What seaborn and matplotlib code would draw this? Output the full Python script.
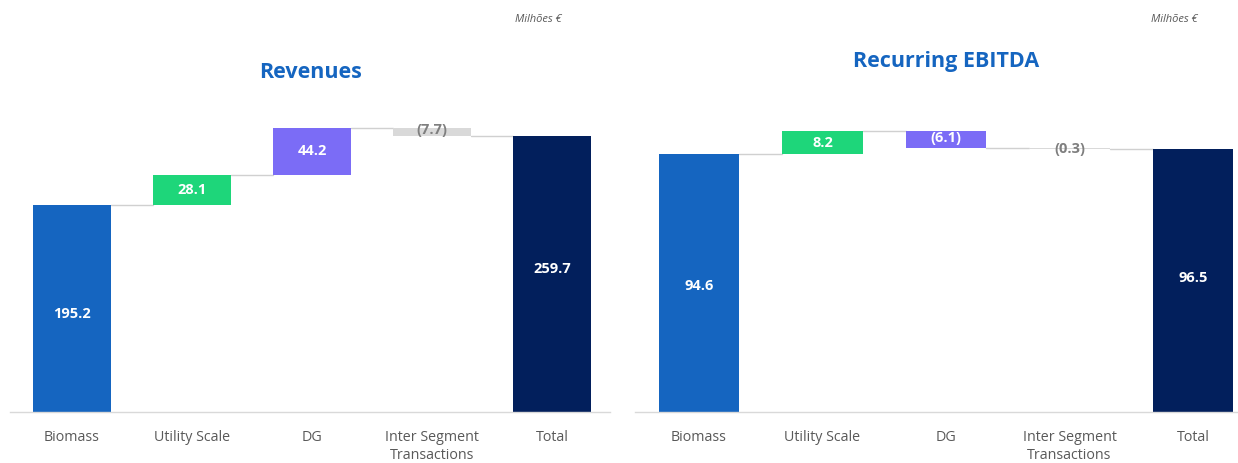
import matplotlib
matplotlib.use("Agg")
import matplotlib.pyplot as plt
import seaborn as sns
import numpy as np

categories = ["Biomass", "Utility Scale", "DG", "Inter Segment\nTransactions", "Total"]
revenues = [195.2, 28.1, 44.2, -7.7, 259.7]
ebitda = [94.6, 8.2, -6.1, -0.3, 96.5]
rev_labels = ["195.2", "28.1", "44.2", "(7.7)", "259.7"]
ebitda_labels = ["94.6", "8.2", "(6.1)", "(0.3)", "96.5"]
titles = ["Revenues", "Recurring EBITDA"]
unit_label = "Milhões €"

colors = ["#1565C0", "#1ED67A", "#7B6CF6", "#D9D9D9", "#021F5C"]
label_colors = ["white", "white", "white", "#7F7F7F", "white"]
title_color = "#1565C0"

sns.set_theme(style="white")
plt.rcParams["font.family"] = ["Open Sans", "DejaVu Sans"]

fig = plt.figure(figsize=(12.38, 4.63), dpi=100)
W, H = 1238, 463
BW = 0.65

def waterfall(ax, values, labels, ymax, label_pos):
    vals = np.array(values, dtype=float)
    n = len(vals)
    bottoms = np.zeros(n)
    heights = np.zeros(n)
    running = 0.0
    for i in range(n - 1):
        if vals[i] >= 0:
            bottoms[i] = running
            heights[i] = vals[i]
        else:
            bottoms[i] = running + vals[i]
            heights[i] = -vals[i]
        running += vals[i]
    bottoms[-1] = 0
    heights[-1] = vals[-1]
    for i in range(n):
        sns.barplot(x=[categories[i]], y=[heights[i]], order=categories,
                    bottom=bottoms[i], color=colors[i], saturation=1,
                    width=BW, edgecolor="none", ax=ax, zorder=2)
    running = 0.0
    for i in range(n - 1):
        running += vals[i]
        ax.plot([i + BW / 2, i + 1 - BW / 2], [running, running], color="#D0D0D0",
                lw=1.0, zorder=1)
    for i in range(n):
        ax.text(i, label_pos[i], labels[i], ha="center", va="center", fontsize=10.5,
                fontweight="bold", color=label_colors[i], zorder=3)
    ax.set_ylim(0, ymax)
    ax.set_yticks([])
    ax.set_xlabel("")
    ax.set_ylabel("")
    for s in ["top", "left", "right"]:
        ax.spines[s].set_visible(False)
    ax.spines["bottom"].set_color("#D9D9D9")
    ax.spines["bottom"].set_linewidth(1.0)
    ax.tick_params(axis="x", length=0, pad=13, labelsize=10.3, labelcolor="#595959")
    for t in ax.get_xticklabels():
        t.set_linespacing(1.3)

base_y = 412
top_y = 100
ax1 = fig.add_axes([10 / W, (H - base_y) / H, 600 / W, (base_y - top_y) / H])
waterfall(ax1, revenues, rev_labels, 312 / 1.063,
          [195.2 / 2 - 5, 195.2 + 28.1 / 2, 223.3 + 44.2 / 2, 265.2, 259.7 / 2 + 5])
ax1.set_xlim(-0.517, 4.483)

ax2 = fig.add_axes([635 / W, (H - base_y) / H, 603 / W, (base_y - top_y) / H])
waterfall(ax2, ebitda, ebitda_labels, 312 / 2.73,
          [94.6 / 2 - 1, 94.6 + 8.2 / 2, 102.8 - 6.1 / 2 + 0.6, 96.4, 96.5 / 2 + 1])
ax2.set_xlim(-0.518, 4.364)

fig.text(311 / W, 1 - 72 / H, titles[0], ha="center", va="center", fontsize=15.5,
         fontweight="bold", color=title_color)
fig.text(946 / W, 1 - 62 / H, titles[1], ha="center", va="center", fontsize=15.5,
         fontweight="bold", color=title_color)
fig.text(562 / W, 1 - 20 / H, unit_label, ha="right", va="center", fontsize=8,
         style="italic", color="#595959")
fig.text(1198 / W, 1 - 20 / H, unit_label, ha="right", va="center", fontsize=8,
         style="italic", color="#595959")

fig.savefig("out.png", dpi=100, facecolor="white")
